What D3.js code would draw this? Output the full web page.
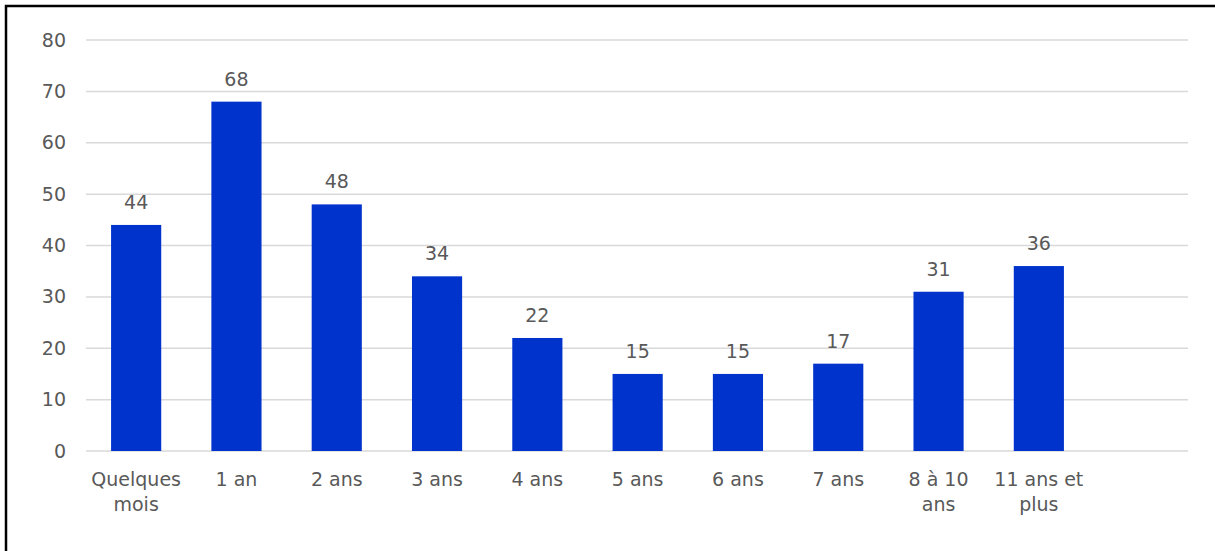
<!DOCTYPE html>
<html>
<head>
<meta charset="utf-8">
<script src="https://cdn.jsdelivr.net/npm/d3@7"></script>
<style>
  html, body { margin: 0; padding: 0; background: #fff; }
  svg { display: block; }
  text { font-family: "DejaVu Sans", sans-serif; fill: #595959; }
</style>
</head>
<body>
<svg id="chart" width="1215" height="551"></svg>
<script>
// Durée (catégories) et effectifs
const categories = ["Quelques mois", "1 an", "2 ans", "3 ans", "4 ans", "5 ans", "6 ans", "7 ans", "8 à 10 ans", "11 ans et plus"];
const values = [44, 68, 48, 34, 22, 15, 15, 17, 31, 36];
const yTicks = [0, 10, 20, 30, 40, 50, 60, 70, 80];

const svg = d3.select("#chart");
const W = 1215, H = 551;

const plotLeft = 86, plotRight = 1188, plotTop = 40, plotBottom = 451;
const step = 100.3;
const fontSize = "19px";

// Outer frame (top and left edges visible)
svg.append("rect")
  .attr("x", 6).attr("y", 6)
  .attr("width", W + 10).attr("height", H + 10)
  .attr("fill", "none").attr("stroke", "#000").attr("stroke-width", 2.5);

const x = d3.scaleBand()
  .domain(categories)
  .range([plotLeft, plotLeft + step * categories.length])
  .paddingInner(0.5).paddingOuter(0.25);

const y = d3.scaleLinear().domain([0, 80]).range([plotBottom, plotTop]);

// Gridlines
svg.append("g").selectAll("line").data(yTicks).join("line")
  .attr("x1", plotLeft).attr("x2", plotRight)
  .attr("y1", d => y(d)).attr("y2", d => y(d))
  .attr("stroke", "#d9d9d9").attr("stroke-width", 1.5);

// Y axis labels
const yAxis = d3.axisLeft(y).tickValues(yTicks).tickSize(0).tickPadding(0);
const gy = svg.append("g").attr("transform", "translate(66,0)").call(yAxis);
gy.select(".domain").remove();
gy.selectAll("text").style("font-size", fontSize).style("font-family", null).attr("fill", null);

// Bars
svg.append("g").selectAll("rect").data(values).join("rect")
  .attr("x", (d, i) => x(categories[i]))
  .attr("width", x.bandwidth())
  .attr("y", d => y(d))
  .attr("height", d => y(0) - y(d))
  .attr("fill", "#0033cc");

// Value labels
svg.append("g").selectAll("text").data(values).join("text")
  .attr("x", (d, i) => x(categories[i]) + x.bandwidth() / 2)
  .attr("y", d => y(d) - 16)
  .attr("text-anchor", "middle")
  .style("font-size", fontSize)
  .text(d => d);

// X axis labels, wrapped to the category width
const maxW = 92;
const gx = svg.append("g");
categories.forEach(c => {
  const cx = x(c) + x.bandwidth() / 2;
  const t = gx.append("text")
    .attr("x", cx).attr("y", 486)
    .attr("text-anchor", "middle")
    .style("font-size", fontSize);
  const words = c.split(" ");
  let line = [];
  let tspan = t.append("tspan").attr("x", cx).attr("dy", 0);
  words.forEach(w => {
    line.push(w);
    tspan.text(line.join(" "));
    if (tspan.node().getComputedTextLength() > maxW && line.length > 1) {
      line.pop();
      tspan.text(line.join(" "));
      line = [w];
      tspan = t.append("tspan").attr("x", cx).attr("dy", 25).text(w);
    }
  });
});
</script>
</body>
</html>
